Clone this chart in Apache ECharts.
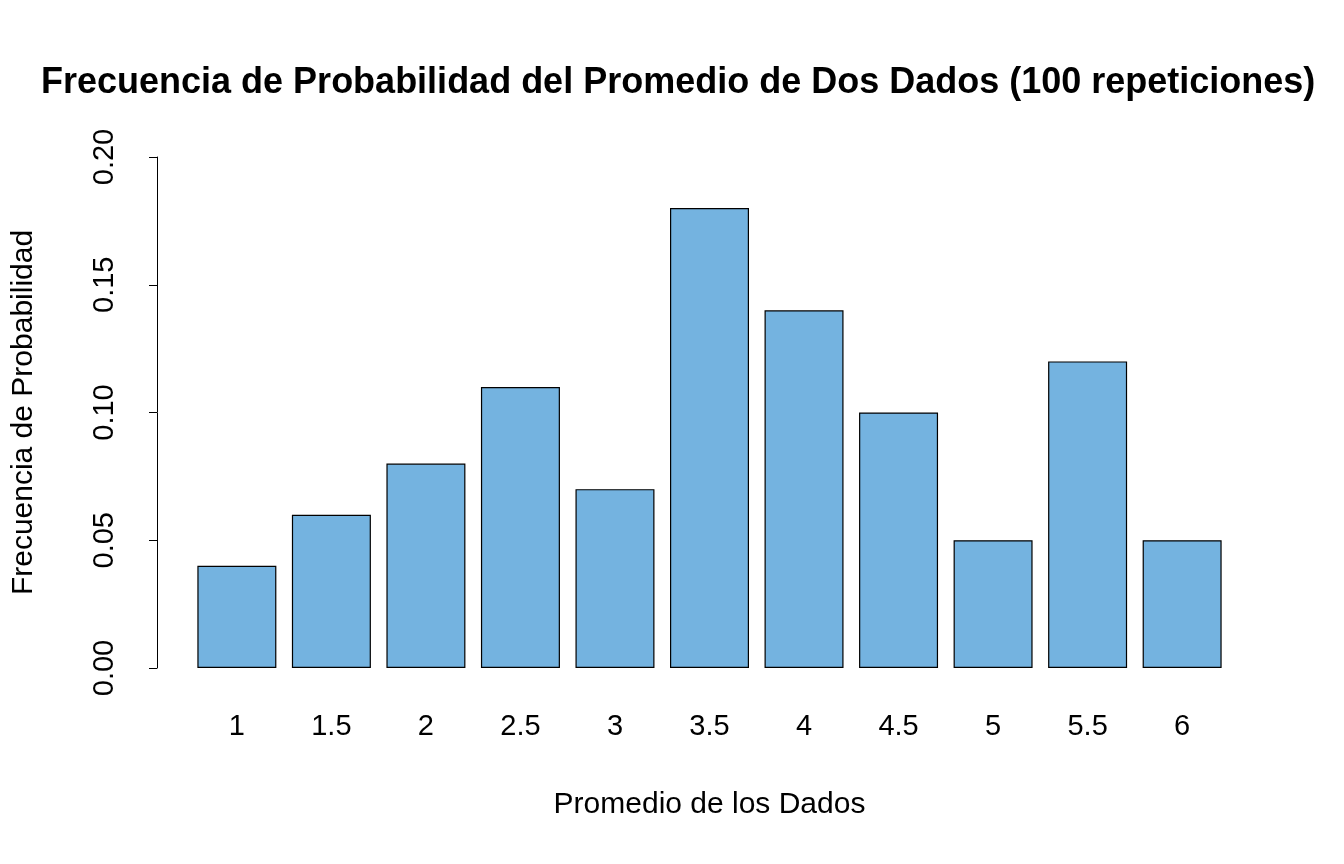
<!DOCTYPE html>
<html>
<head>
<meta charset="utf-8">
<script src="https://cdn.jsdelivr.net/npm/echarts@6/dist/echarts.min.js"></script>
<style>html,body{margin:0;padding:0;background:#fff}#main{width:1344px;height:864px}</style>
</head>
<body>
<div id="main"></div>
<script>
// datos
var categorias = ['1','1.5','2','2.5','3','3.5','4','4.5','5','5.5','6'];
var frecuencias = [0.04,0.06,0.08,0.11,0.07,0.18,0.14,0.10,0.05,0.12,0.05];
var yTicks = ['0.00','0.05','0.10','0.15','0.20'];

var chart = echarts.init(document.getElementById('main'));
chart.setOption({
    animation: false,
    textStyle: {fontFamily: 'Liberation Sans, Arial, sans-serif'},
    title: {
        text: 'Frecuencia de Probabilidad del Promedio de Dos Dados (100 repeticiones)',
        left: 36, top: 60,
        textStyle: {fontSize: 36, fontWeight: 'bold', color: '#000', fontFamily: 'Liberation Sans, Arial, sans-serif'}
    },
    grid: {left: 189.6, right: 1344 - 1229.4, top: 157, bottom: 196},
    xAxis: {
        type: 'category',
        data: categorias,
        name: 'Promedio de los Dados',
        nameLocation: 'middle',
        nameGap: 122,
        nameTextStyle: {fontSize: 30, color: '#000'},
        axisLine: {show: false},
        axisTick: {show: false},
        axisLabel: {fontSize: 29, color: '#000', margin: 44}
    },
    yAxis: {
        type: 'value',
        min: 0, max: 0.2, interval: 0.05,
        offset: 32.6,
        name: 'Frecuencia de Probabilidad',
        nameLocation: 'middle',
        nameGap: 118,
        nameTextStyle: {fontSize: 30, color: '#000'},
        splitLine: {show: false},
        axisLine: {show: true, lineStyle: {color: '#000', width: 1}},
        axisTick: {show: true, inside: false, length: 8, lineStyle: {color: '#000'}},
        axisLabel: {
            fontSize: 29, color: '#000', rotate: 90, margin: 38,
            formatter: function(v){ return yTicks[Math.round(v / 0.05)]; }
        }
    },
    series: [{
        type: 'bar',
        data: frecuencias,
        barWidth: 79,
        itemStyle: {color: '#74b3e0', borderColor: '#000', borderWidth: 1.2}
    }]
});
</script>
</body>
</html>
